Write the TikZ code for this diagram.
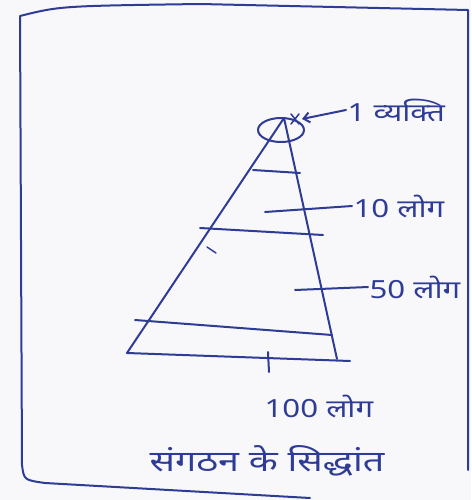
\documentclass[tikz,border=0pt]{standalone}
\usepackage{fontspec}
\newfontfamily\hindifont[Script=Devanagari]{Noto Sans}
\usetikzlibrary{arrows.meta,calc,positioning}
\definecolor{ink}{HTML}{2E3C96}
\definecolor{paper}{HTML}{F8F8FB}

\begin{document}
\begin{tikzpicture}[x=1pt,y=-1pt,>=Latex,
    pen/.style={ink,line width=2pt,line cap=round,line join=round},
    lab/.style={font=\hindifont\fontsize{25}{28}\selectfont,text=ink,anchor=west,inner sep=1pt,xscale=1.25}]
      \fill[paper] (0,0) rectangle (471,500);
      \useasboundingbox (0,0) rectangle (471,500);
      % page frame
      \draw[pen] (468,470) -- (468,10) -- (200,4) .. controls (60,6) .. (20,16)
        -- (22,465) .. controls (24,480) .. (45,483) -- (310,498);
      % pyramid
      \coordinate (apex) at (284,118);
      \coordinate (bl) at (127,353);
      \coordinate (br) at (337,359);
      \draw[pen] (bl) -- (apex) -- (br);
      \draw[pen] (bl) -- (350,361);
      \draw[pen] (281,130) ellipse [x radius=23, y radius=12];
      \draw[pen,line width=1.5pt] (291,114) -- (299,124) (291,124) -- (299,114);
      \foreach \xa/\ya/\xb/\yb in {253/170/300/173,200/228/323/235,135/320/332/335}
        \draw[pen] (\xa,\ya) -- (\xb,\yb);
      \draw[pen,line width=1.4pt] (207,247) -- (216,253);
      % levels
      \node[lab] (one) at (346,110) {1 व्यक्ति};
      \node[lab] (ten) at (352,206) {10 लोग};
      \node[lab] (fifty) at (368,287) {50 लोग};
      \node[lab] (hundred) at (263,406) {100 लोग};
      \coordinate (t10) at (265,212);
      \coordinate (t50) at (295,290);
      \coordinate (t100) at (268,352);
      \draw[pen,->,>={Straight Barb[length=6pt,width=10pt]}] (one.west) -- (302,119);
      \draw[pen] (t10) -- (ten.west);
      \draw[pen] (t50) -- (fifty.west);
      \draw[pen] (t100) -- (269,372);
      \node[lab,font=\hindifont\fontsize{29}{32}\selectfont,xscale=1.3/1.25] (title) at (148,461) {संगठन के सिद्धांत};
    \end{tikzpicture}
\end{document}
